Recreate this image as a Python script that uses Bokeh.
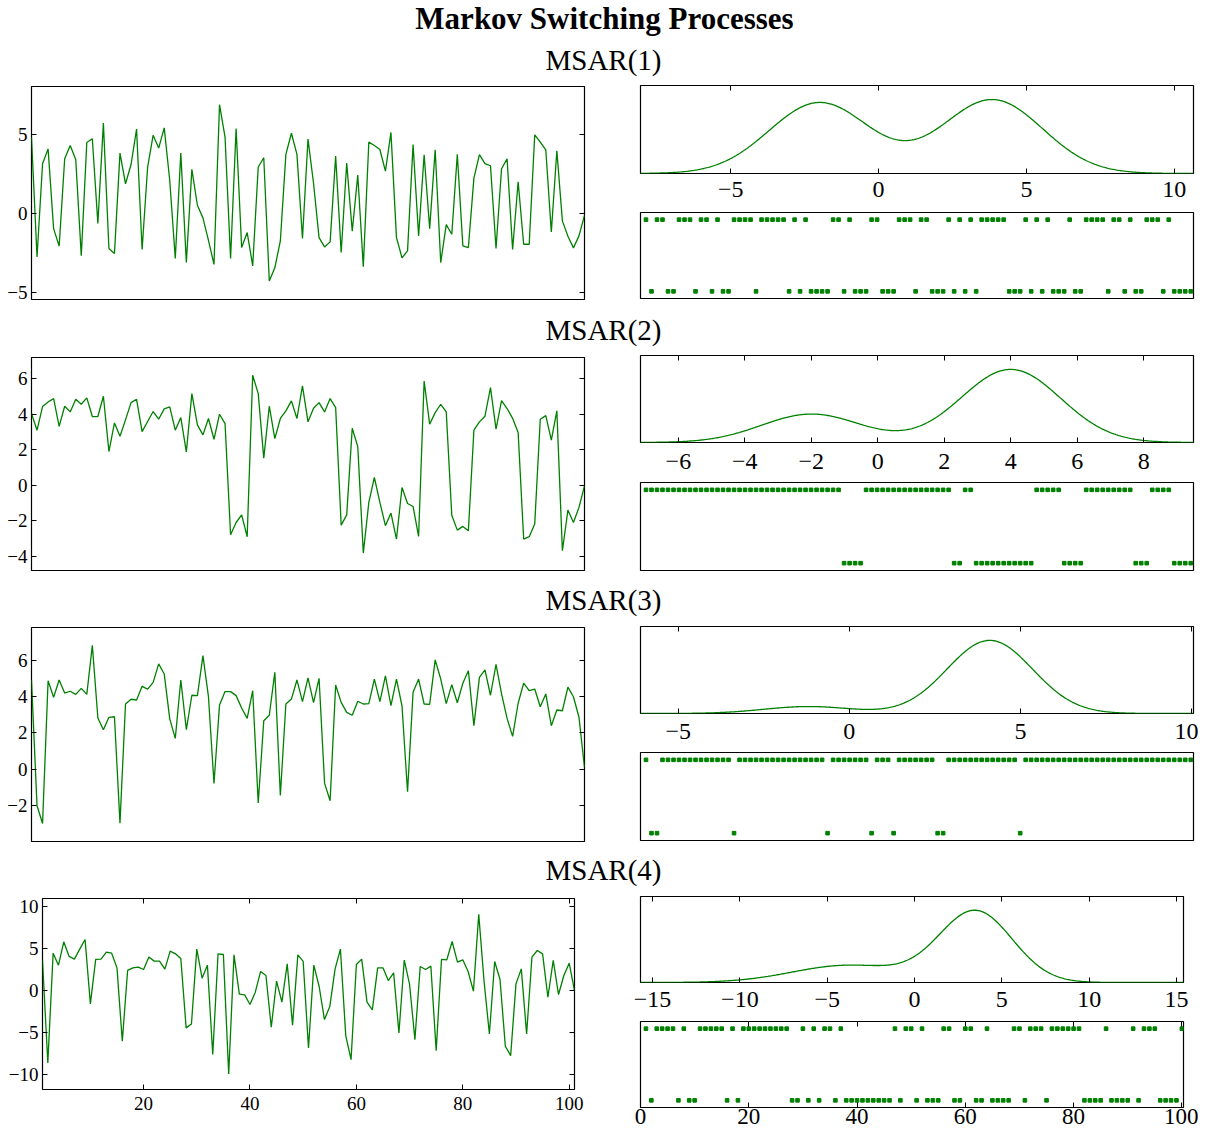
import numpy as np
from bokeh.plotting import figure
from bokeh.layouts import column, row
from bokeh.models import Range1d, LinearAxis, FixedTicker, CustomJSTickFormatter
from bokeh.embed import file_html
from bokeh.resources import INLINE
from bokeh.core.properties import value

# ---------------- data ----------------
t = list(range(1, 102))
idx = list(range(1, 101))

msar1 = [4.82, -2.76, 3.14, 4.08, -0.97, -2.08, 3.45, 4.29, 3.41, -2.69,
         4.48, 4.72, -0.65, 5.71, -2.23, -2.55, 3.81, 1.87, 3.09, 5.33,
         -2.29, 2.93, 4.95, 4.13, 5.41, 2.08, -2.86, 3.81, -3.12, 2.78,
         0.51, -0.29, -1.71, -3.24, 6.88, 4.82, -2.86, 5.37, -2.17, -1.22,
         -3.33, 2.93, 3.52, -4.29, -3.45, -1.75, 3.73, 5.07, 3.73, -1.60,
         4.70, 1.90, -1.54, -2.13, -1.81, 3.62, -2.48, 3.18, -1.14, 2.42,
         -3.39, 4.51, 4.29, 4.04, 2.67, 5.12, -1.54, -2.82, -2.38, 4.36,
         -1.43, 3.71, -0.97, 4.02, -3.12, -0.72, -1.33, 3.73, -2.06, -2.17,
         2.23, 3.71, 3.14, 3.01, -2.23, 2.82, 3.45, -2.29, 2.00, -1.96,
         -1.96, 4.97, 4.51, 4.02, -1.18, 3.96, -0.48, -1.45, -2.19, -1.43,
         -0.13]
msar2 = [4.04, 3.09, 4.42, 4.68, 4.87, 3.31, 4.44, 4.12, 4.83, 4.55,
         4.91, 3.86, 3.86, 5.00, 1.89, 3.50, 2.75, 3.67, 4.64, 4.83,
         3.01, 3.58, 4.14, 3.71, 4.29, 4.40, 3.09, 3.80, 1.87, 5.15,
         3.39, 2.83, 3.75, 2.58, 3.99, 3.46, -2.79, -2.10, -1.67, -2.90,
         6.18, 5.15, 1.52, 4.44, 2.62, 3.75, 4.18, 4.74, 3.75, 5.58,
         3.56, 4.33, 4.64, 4.12, 4.87, 4.36, -2.25, -1.67, 3.20, 2.17,
         -3.82, -0.97, 0.43, -0.97, -2.28, -1.57, -3.03, -0.13, -1.03, -1.20,
         -2.88, 5.86, 3.43, 4.08, 4.55, 4.12, -1.69, -2.53, -2.32, -2.57,
         3.09, 3.56, 3.88, 5.49, 3.15, 4.76, 4.31, 3.76, 2.96, -3.03,
         -2.90, -2.19, 3.71, 3.91, 2.53, 4.18, -3.69, -1.40, -2.10, -1.25,
         -0.04]
msar3 = [4.91, -2.00, -2.97, 4.87, 3.96, 4.91, 4.19, 4.29, 4.12, 4.45,
         4.12, 6.81, 2.82, 2.18, 2.86, 2.89, -2.95, 3.59, 3.85, 3.81,
         4.56, 4.41, 4.78, 5.79, 5.24, 2.77, 1.70, 4.91, 2.18, 4.07,
         4.05, 6.25, 3.99, -0.77, 3.53, 4.27, 4.27, 4.05, 3.37, 2.80,
         4.32, -1.85, 2.67, 2.97, 5.33, -1.43, 3.59, 3.86, 4.91, 3.72,
         5.02, 3.66, 5.00, -0.77, -1.72, 4.63, 3.68, 3.13, 2.97, 3.74,
         3.59, 3.61, 4.96, 3.72, 5.13, 3.50, 4.96, 3.48, -1.23, 4.23,
         4.96, 3.59, 3.57, 6.01, 4.96, 3.61, 4.65, 3.66, 4.73, 5.42,
         2.40, 5.05, 5.46, 4.07, 5.77, 4.14, 2.80, 1.81, 3.63, 4.73,
         4.32, 4.41, 3.44, 4.14, 2.40, 3.26, 3.22, 4.52, 3.99, 2.86,
         0.11]
msar4 = [3.62, -8.59, 4.49, 3.06, 5.84, 4.10, 3.78, 4.97, 6.12, -1.55,
         3.74, 3.78, 4.61, 4.49, 2.74, -6.00, 2.43, 2.74, 2.82, 2.54,
         4.02, 3.54, 3.54, 2.58, 4.73, 4.41, 3.86, -4.41, -3.94, 4.97,
         1.51, 3.06, -7.59, 4.41, 4.33, -9.90, 4.29, -0.40, -0.48, -1.63,
         -0.16, 2.31, 1.83, -4.33, 1.15, -1.35, 3.22, -4.10, 4.29, 3.50,
         -6.80, 3.06, 0.52, -3.42, -1.87, 2.62, 4.97, -5.33, -8.19, 3.14,
         3.78, -1.35, -2.27, 2.74, 2.74, 1.23, 2.15, -5.01, 3.66, 0.76,
         -5.81, 2.90, 2.54, 2.94, -7.12, 3.74, 3.70, 5.88, 3.42, 3.70,
         2.31, -0.04, 9.11, 1.15, -5.13, 3.50, 1.35, -6.60, -7.71, 0.83,
         2.62, -5.13, 4.02, 4.81, 4.41, -0.76, 3.62, -0.44, 1.83, 3.30,
         0.04]

# regimes (1 = upper row of dots, 0 = lower row)
states1 = [1, 0, 1, 1, 0, 0, 1, 1, 1, 0,  1, 1, 0, 1, 0, 0, 1, 1, 1, 1,
           0, 1, 1, 1, 1, 1, 0, 1, 0, 1,  0, 0, 0, 0, 1, 1, 0, 1, 0, 0,
           0, 1, 1, 0, 0, 0, 1, 1, 1, 0,  1, 1, 0, 0, 0, 1, 0, 1, 0, 1,
           0, 1, 1, 1, 1, 1, 0, 0, 0, 1,  0, 1, 0, 1, 0, 0, 0, 1, 0, 0,
           1, 1, 1, 1, 0, 1, 1, 0, 1, 0,  0, 1, 1, 1, 0, 1, 0, 0, 0, 0]
states2 = [1, 1, 1, 1, 1, 1, 1, 1, 1, 1,  1, 1, 1, 1, 1, 1, 1, 1, 1, 1,
           1, 1, 1, 1, 1, 1, 1, 1, 1, 1,  1, 1, 1, 1, 1, 1, 0, 0, 0, 0,
           1, 1, 1, 1, 1, 1, 1, 1, 1, 1,  1, 1, 1, 1, 1, 1, 0, 0, 1, 1,
           0, 0, 0, 0, 0, 0, 0, 0, 0, 0,  0, 1, 1, 1, 1, 1, 0, 0, 0, 0,
           1, 1, 1, 1, 1, 1, 1, 1, 1, 0,  0, 0, 1, 1, 1, 1, 0, 0, 0, 0]
states3 = [1, 0, 0, 1, 1, 1, 1, 1, 1, 1,  1, 1, 1, 1, 1, 1, 0, 1, 1, 1,
           1, 1, 1, 1, 1, 1, 1, 1, 1, 1,  1, 1, 1, 0, 1, 1, 1, 1, 1, 1,
           1, 0, 1, 1, 1, 0, 1, 1, 1, 1,  1, 1, 1, 0, 0, 1, 1, 1, 1, 1,
           1, 1, 1, 1, 1, 1, 1, 1, 0, 1,  1, 1, 1, 1, 1, 1, 1, 1, 1, 1,
           1, 1, 1, 1, 1, 1, 1, 1, 1, 1,  1, 1, 1, 1, 1, 1, 1, 1, 1, 1]
states4 = [1, 0, 1, 1, 1, 1, 0, 1, 0, 0,  1, 1, 1, 1, 1, 0, 1, 0, 1, 1,
           1, 1, 1, 1, 1, 1, 1, 0, 0, 1,  0, 1, 0, 1, 1, 0, 1, 0, 0, 0,
           0, 0, 0, 0, 0, 0, 1, 0, 1, 1,  0, 1, 0, 0, 0, 1, 1, 0, 0, 1,
           1, 0, 0, 1, 0, 0, 0, 0, 1, 1,  0, 1, 1, 1, 0, 1, 1, 1, 1, 1,
           1, 0, 0, 0, 0, 1, 0, 0, 0, 0,  1, 0, 1, 1, 1, 0, 0, 0, 0, 1]

# stationary mixture densities: weights, means, standard deviations
dens1_w, dens1_mu, dens1_sd = [0.49, 0.51], [-2.0, 3.85], [1.7, 1.7]
dens2_w, dens2_mu, dens2_sd = [0.28, 0.72], [-2.0, 4.0], [1.5, 1.5]
dens3_w, dens3_mu, dens3_sd = [0.09, 0.91], [-1.2, 4.1], [1.3, 1.25]
dens4_w, dens4_mu, dens4_sd = [0.73, 0.27], [3.5, -3.8], [2.1, 3.2]

ts_yticks = [[-5, 0, 5], [-4, -2, 0, 2, 4, 6], [-2, 0, 2, 4, 6], [-10, -5, 0, 5, 10]]
ts_xticks = [20, 40, 60, 80, 100]
dens_xticks = [[-5, 0, 5, 10], [-6, -4, -2, 0, 2, 4, 6, 8], [-5, 0, 5, 10],
               [-15, -10, -5, 0, 5, 10, 15]]
state_xticks = [0, 20, 40, 60, 80, 100]

# ---------------- styling helpers ----------------
GREEN = "#008000"
FONT = "Liberation Serif"
FMT = "return (tick < 0 ? '\\u2212' : '') + Math.abs(tick).toString();"


def base_fig(w, h, xr, yr, bl, br, bt, bb):
    p = figure(width=w, height=h, x_range=Range1d(*xr), y_range=Range1d(*yr),
               x_axis_type=None, y_axis_type=None, output_backend="svg",
               toolbar_location=None, min_border_left=bl, min_border_right=br,
               min_border_top=bt, min_border_bottom=bb)
    p.outline_line_color = "black"
    p.outline_line_width = 1.2
    p.outline_line_alpha = 1.0
    p.background_fill_color = "white"
    p.border_fill_color = "white"
    return p


def add_axis(p, side, ticks, show=True, size="19px", standoff=4):
    ax = LinearAxis(ticker=FixedTicker(ticks=list(ticks)))
    ax.axis_line_color = None
    ax.major_tick_in = 5
    ax.major_tick_out = 0
    ax.major_tick_line_color = "black"
    ax.major_tick_line_width = 1
    ax.minor_tick_line_color = None
    if show:
        ax.formatter = CustomJSTickFormatter(code=FMT)
        ax.major_label_text_font = FONT
        ax.major_label_text_font_size = size
        ax.major_label_text_color = "black"
        ax.major_label_standoff = standoff
    else:
        ax.major_label_text_font_size = "0px"
        ax.major_label_text_color = None
        ax.major_label_standoff = 0
    p.add_layout(ax, side)


def header(h, items):
    p = figure(width=1198, height=h, x_range=Range1d(0, 1198), y_range=Range1d(h, 0),
               x_axis_type=None, y_axis_type=None, output_backend="svg",
               toolbar_location=None, min_border=0)
    p.outline_line_color = None
    for txt, x, y, size, style in items:
        p.text(x=[x], y=[y], text=[txt], text_font=value(FONT), text_font_size=size,
               text_font_style=style, text_align="center", text_baseline="alphabetic",
               text_color="black")
    return p


def ts_fig(vals, yr, yticks, w, h, bl, br, bt, bb, xlabels=False):
    p = base_fig(w, h, (1, 101), yr, bl, br, bt, bb)
    p.line(t, vals, line_color=GREEN, line_width=1.3)
    add_axis(p, "left", yticks, True, "19px", 4)
    add_axis(p, "right", yticks, False)
    if xlabels:
        add_axis(p, "below", ts_xticks, True, "19px", 7)
        add_axis(p, "above", ts_xticks, False)
    return p


def dens_fig(wts, mus, sds, xr, xticks, w, h, bl, br, bt, bb, standoff):
    xs = np.linspace(xr[0], xr[1], 500)
    ys = np.zeros_like(xs)
    for wt, mu, sd in zip(wts, mus, sds):
        ys += wt * np.exp(-0.5 * ((xs - mu) / sd) ** 2) / (sd * np.sqrt(2 * np.pi))
    p = base_fig(w, h, xr, (0, ys.max() * 1.19), bl, br, bt, bb)
    p.line(xs, ys, line_color=GREEN, line_width=1.3)
    add_axis(p, "below", xticks, True, "24px", standoff)
    add_axis(p, "above", xticks, False)
    return p


def state_fig(st, xr, w, h, bl, br, bt, bb, labels=False):
    p = base_fig(w, h, xr, (-0.1, 1.1), bl, br, bt, bb)
    p.scatter(idx, st, marker="square", size=3.6, fill_color=GREEN, line_color=GREEN)
    if labels:
        add_axis(p, "below", state_xticks, True, "23px", 1)
        add_axis(p, "above", state_xticks, False)
    return p


# ---------------- layout ----------------
h0 = header(80, [("Markov Switching Processes", 604, 18.3, "31px", "bold"),
                 ("MSAR(1)", 603, 59.6, "29px", "normal")])
h1 = header(40, [("MSAR(2)", 603, 19.6, "29px", "normal")])
h2 = header(40, [("MSAR(3)", 603, 19.6, "29px", "normal")])
h3 = header(36, [("MSAR(4)", 603, 19.6, "29px", "normal")])

r1 = row(ts_fig(msar1, (-5.46, 8.03), ts_yticks[0], 612, 230, 31, 28, 6, 11),
         column(dens_fig(dens1_w, dens1_mu, dens1_sd, (-8.05, 10.65), dens_xticks[0],
                         586, 129, 28, 5, 5, 36, 8),
                state_fig(states1, (0, 100.5), 586, 101, 28, 5, 3, 12)))
r2 = row(ts_fig(msar2, (-4.8, 7.18), ts_yticks[1], 612, 230, 31, 28, 7, 10),
         column(dens_fig(dens2_w, dens2_mu, dens2_sd, (-7.14, 9.5), dens_xticks[1],
                         586, 131, 28, 5, 5, 39, 11),
                state_fig(states2, (0, 100.5), 586, 99, 28, 5, 1, 10)))
r3 = row(ts_fig(msar3, (-3.96, 7.79), ts_yticks[2], 612, 230, 31, 28, 7, 9),
         column(dens_fig(dens3_w, dens3_mu, dens3_sd, (-6.1, 10.05), dens_xticks[2],
                         586, 131, 28, 5, 6, 38, 10),
                state_fig(states3, (0, 100.5), 586, 99, 28, 5, 1, 10)))
r4 = row(ts_fig(msar4, (-11.75, 11.0), ts_yticks[3], 612, 249, 42, 38, 12, 46, xlabels=True),
         column(dens_fig(dens4_w, dens4_mu, dens4_sd, (-15.69, 15.4), dens_xticks[3],
                         586, 132, 28, 15, 10, 36, 9),
                state_fig(states4, (0, 100.3), 586, 117, 28, 15, 3, 28, labels=True)))

layout = column(h0, r1, h1, r2, h2, r3, h3, r4)

open("out.html", "w").write(file_html(layout, INLINE, title="Markov Switching Processes"))
